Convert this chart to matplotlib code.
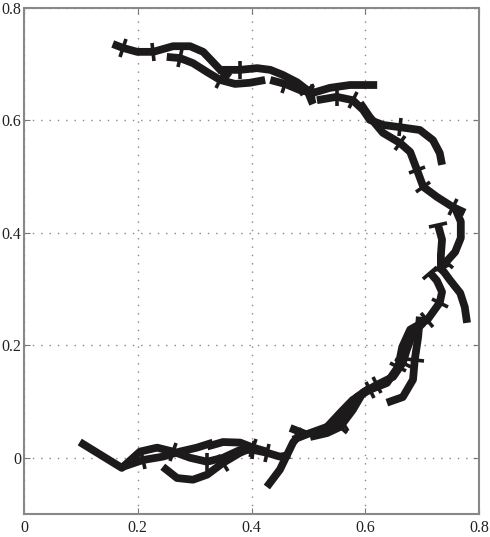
import numpy as np
import matplotlib
matplotlib.use("Agg")
import matplotlib.pyplot as plt
from matplotlib.markers import MarkerStyle
from matplotlib.transforms import Affine2D

# ---- data (data units) ----
f1_x = [0.156, 0.174, 0.199, 0.227, 0.262, 0.292, 0.315, 0.332, 0.345, 0.362]
f1_y = [0.736, 0.729, 0.722, 0.722, 0.732, 0.732, 0.722, 0.704, 0.690, 0.677]
f1_t = [1, 3]

f2_x = [0.251, 0.274, 0.297, 0.322, 0.345, 0.371, 0.397, 0.424]
f2_y = [0.713, 0.711, 0.702, 0.686, 0.672, 0.665, 0.667, 0.672]
f2_t = [1, 4]

f3_x = [0.341, 0.380, 0.410, 0.433, 0.455, 0.480, 0.498, 0.508]
f3_y = [0.690, 0.690, 0.693, 0.690, 0.681, 0.668, 0.654, 0.629]
f3_t = [1, 6]

f4_x = [0.433, 0.459, 0.485, 0.508, 0.538, 0.573, 0.621]
f4_y = [0.672, 0.665, 0.654, 0.649, 0.658, 0.663, 0.663]
f4_t = [1, 3]

f5_x = [0.515, 0.550, 0.578, 0.596, 0.608, 0.631, 0.661, 0.696, 0.719, 0.731, 0.735]
f5_y = [0.636, 0.642, 0.636, 0.619, 0.601, 0.592, 0.588, 0.583, 0.565, 0.542, 0.521]
f5_t = [1, 2, 6]

f6_x = [0.591, 0.608, 0.631, 0.661, 0.679, 0.691, 0.702, 0.726, 0.754, 0.775]
f6_y = [0.631, 0.606, 0.578, 0.560, 0.544, 0.512, 0.482, 0.464, 0.446, 0.436]
f6_t = [3, 5, 6, 8]

f7_x = [0.758, 0.768, 0.768, 0.758, 0.742, 0.728]
f7_y = [0.444, 0.420, 0.391, 0.366, 0.348, 0.331]
f7_t = [4]

f8_x = [0.728, 0.735, 0.733, 0.733, 0.749, 0.767, 0.775, 0.779]
f8_y = [0.414, 0.388, 0.361, 0.338, 0.316, 0.293, 0.268, 0.240]
f8_t = [0, 3]

f9_x = [0.714, 0.726, 0.735, 0.731, 0.709, 0.679, 0.665, 0.658, 0.638, 0.608, 0.578, 0.556, 0.533]
f9_y = [0.329, 0.315, 0.295, 0.276, 0.245, 0.228, 0.197, 0.162, 0.133, 0.121, 0.103, 0.080, 0.055]
f9_t = [0, 3, 4, 7, 9]

f10_x = [0.696, 0.693, 0.687, 0.684, 0.666, 0.638]
f10_y = [0.251, 0.215, 0.174, 0.139, 0.108, 0.098]
f10_t = [2]

f11_x = [0.473, 0.503, 0.533, 0.561, 0.578, 0.596, 0.621, 0.649, 0.666, 0.673, 0.684, 0.702]
f11_y = [0.032, 0.044, 0.055, 0.062, 0.085, 0.116, 0.130, 0.144, 0.169, 0.192, 0.222, 0.240]
f11_t = [3, 6, 8]

f12_x = [0.503, 0.533, 0.556, 0.568, 0.585, 0.608]
f12_y = [0.037, 0.044, 0.055, 0.085, 0.108, 0.124]
f12_t = [2]

f13_x = [0.427, 0.450, 0.473, 0.491]
f13_y = [-0.052, -0.021, 0.027, 0.050]
f13_t = []

f14_x = [0.098, 0.135, 0.172, 0.204, 0.234, 0.262, 0.292, 0.322, 0.350, 0.380, 0.403, 0.427, 0.450, 0.468]
f14_y = [0.028, 0.005, -0.018, 0.011, 0.018, 0.011, 0.000, -0.007, 0.000, 0.014, 0.014, 0.009, 0.002, 0.005]
f14_t = [5, 7, 10, 11]

f15_x = [0.174, 0.209, 0.244, 0.274, 0.304, 0.332]
f15_y = [-0.016, -0.004, 0.002, 0.011, 0.018, 0.027]
f15_t = [1]

f16_x = [0.244, 0.269, 0.297, 0.322, 0.350, 0.380, 0.406]
f16_y = [-0.016, -0.036, -0.039, -0.030, -0.009, 0.009, 0.020]
f16_t = [4]

f17_x = [0.322, 0.350, 0.380, 0.403, 0.427]
f17_y = [0.020, 0.028, 0.027, 0.018, 0.011]
f17_t = [3]

f18_x = [0.468, 0.498]
f18_y = [0.053, 0.041]
f18_t = []

segments = [
    (f1_x, f1_y, f1_t), (f2_x, f2_y, f2_t), (f3_x, f3_y, f3_t),
    (f4_x, f4_y, f4_t), (f5_x, f5_y, f5_t), (f6_x, f6_y, f6_t),
    (f7_x, f7_y, f7_t), (f8_x, f8_y, f8_t), (f9_x, f9_y, f9_t),
    (f10_x, f10_y, f10_t), (f11_x, f11_y, f11_t), (f12_x, f12_y, f12_t),
    (f13_x, f13_y, f13_t), (f14_x, f14_y, f14_t), (f15_x, f15_y, f15_t),
    (f16_x, f16_y, f16_t), (f17_x, f17_y, f17_t), (f18_x, f18_y, f18_t),
]

x_ticks = [0, 0.2, 0.4, 0.6, 0.8]
y_ticks = [0, 0.2, 0.4, 0.6, 0.8]
x_labels = ["0", "0.2", "0.4", "0.6", "0.8"]
y_labels = ["0", "0.2", "0.4", "0.6", "0.8"]

# ---- figure ----
plt.rcParams['font.family'] = ['Liberation Serif', 'DejaVu Serif']
fig = plt.figure(figsize=(4.90, 5.37), dpi=100)
ax = fig.add_axes([24 / 490, 1 - 514 / 537, 455 / 490, 506 / 537])
ax.set_xlim(0, 0.8)
ax.set_ylim(-0.1, 0.8)

ax.set_xticks(x_ticks)
ax.set_xticklabels(x_labels)
ax.set_yticks(y_ticks)
ax.set_yticklabels(y_labels)
ax.tick_params(direction='in', length=4, width=0.8, colors='#777777',
               labelcolor='#222222', labelsize=11.5, top=True, right=True, pad=2)
ax.tick_params(axis='x', pad=4)
ax.grid(True, color='#888888', linestyle=(0, (1, 5)), linewidth=1.0)
for s in ax.spines.values():
    s.set_color('#888888')
    s.set_linewidth(1.5)

line_color = '#1c1a1a'
for xs, ys, ts in segments:
    ax.plot(xs, ys, color=line_color, linewidth=5.6, solid_capstyle='butt',
            solid_joinstyle='round', zorder=3)

# tick marks perpendicular to curve
for xs, ys, ts in segments:
    pts = ax.transData.transform(np.column_stack([xs, ys]))
    n = len(xs)
    for i in ts:
        a = pts[max(i - 1, 0)]
        b = pts[min(i + 1, n - 1)]
        ang = np.degrees(np.arctan2(b[1] - a[1], b[0] - a[0]))
        m = MarkerStyle('|', transform=Affine2D().rotate_deg(ang))
        ax.plot([xs[i]], [ys[i]], marker=m, markersize=13, markeredgewidth=2.6,
                color=line_color, linestyle='none', zorder=4)

fig.savefig('out.png', dpi=100)
